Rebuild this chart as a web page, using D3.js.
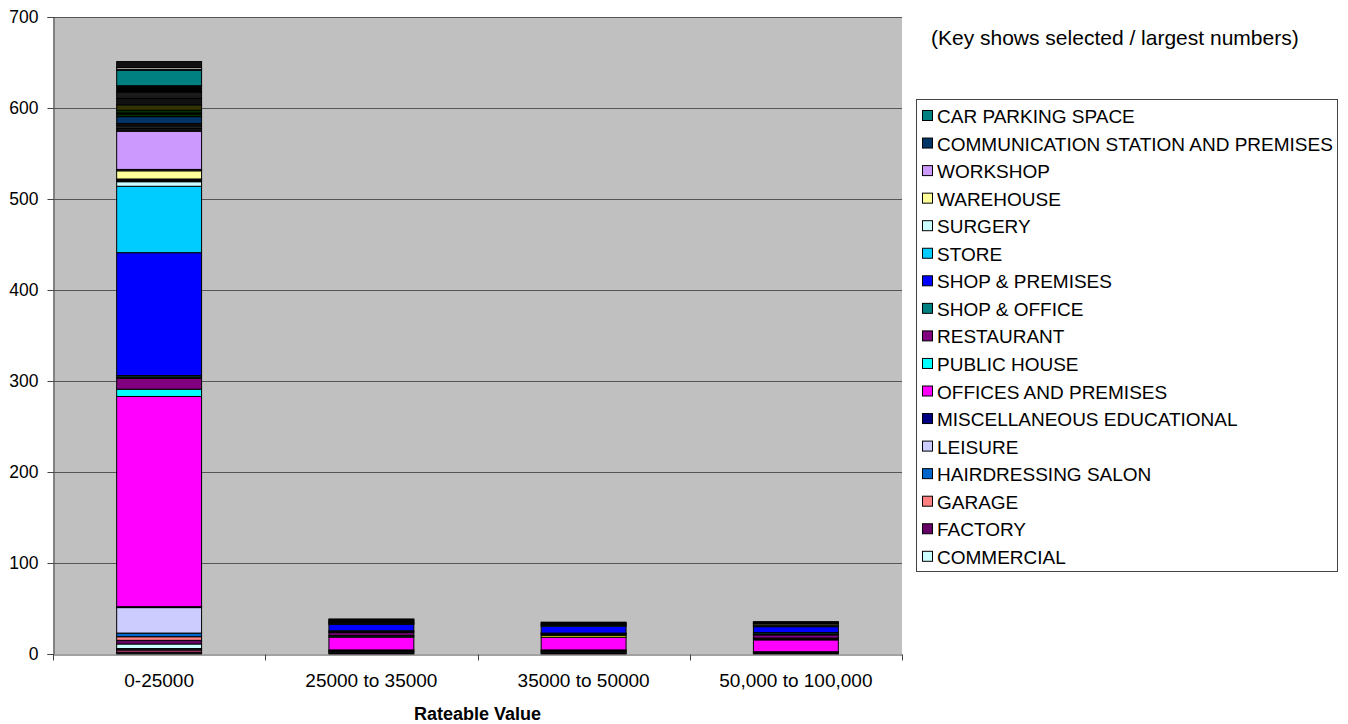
<!doctype HTML>
<html>
  <head>
    <title>Rateable Value</title>
    <style>
      body { margin: 0; background: #fff; }
      text { font-family: Arial, "Liberation Sans", sans-serif; fill: #000; }
      .bar { stroke: #000; stroke-width: 1px; }
    </style>
    <script src="https://cdn.jsdelivr.net/npm/d3@7"></script>
  </head>
  <body>

  <svg width="1348" height="724"></svg>

  <script>

  var categories = ['0-25000', '25000 to 35000', '35000 to 50000', '50,000 to 100,000'];
  var yTicks = [0, 100, 200, 300, 400, 500, 600, 700];

  // stack order, bottom first; names with inKey=false are not in the key
  var seriesNames = [
    'other-1', 'other-2', 'other-3',
    'COMMERCIAL', 'FACTORY', 'GARAGE', 'HAIRDRESSING SALON', 'LEISURE',
    'MISCELLANEOUS EDUCATIONAL', 'OFFICES AND PREMISES', 'other-11',
    'PUBLIC HOUSE', 'RESTAURANT', 'other-14', 'SHOP & OFFICE',
    'SHOP & PREMISES', 'STORE', 'SURGERY', 'other-19', 'other-19b',
    'WAREHOUSE', 'other-21', 'WORKSHOP', 'other-24', 'other-25', 'other-26',
    'COMMUNICATION STATION AND PREMISES', 'other-34', 'other-35', 'other-35b',
    'other-36', 'other-37', 'other-38', 'other-39',
    'CAR PARKING SPACE', 'other-41', 'other-42', 'other-43'
  ];
  var seriesColors = [
    '#333333', '#993366', '#222222',
    '#CCFFFF', '#660066', '#FF8080', '#0066CC', '#CCCCFF',
    '#000080', '#FF00FF', '#FFFF00',
    '#00FFFF', '#800080', '#1a1a1a', '#008080',
    '#0000FF', '#00CCFF', '#CCFFFF', '#111111', '#222222',
    '#FFFF99', '#333333', '#CC99FF', '#111111', '#222222', '#111111',
    '#003366', '#003300', '#111111', '#003300',
    '#333300', '#111111', '#1a1a1a', '#000000',
    '#008080', '#222222', '#C0C0C0', '#111111'
  ];
  var seriesInKey = [
    false, false, false,
    true, true, true, true, true,
    true, true, false,
    true, true, false, true,
    true, true, true, false, false,
    true, false, true, false, false, false,
    true, false, false, false,
    false, false, false, false,
    true, false, false, false
  ];
  // one row per series: [0-25000, 25000 to 35000, 35000 to 50000, 50,000 to 100,000]
  var seriesValues = [
    [1.5, 1, 1, 1],
    [3, 1, 1, 0.5],
    [1.5, 0, 0, 0],
    [5, 1, 1, 0.5],
    [4, 0.5, 0.5, 0],
    [4, 0, 0, 0],
    [4, 0, 1, 0.5],
    [28, 1, 0, 0],
    [1, 0, 0, 0],
    [231, 14, 14, 13],
    [0, 1, 2, 1],
    [8, 1, 1, 1],
    [12, 3, 1, 3.5],
    [1.5, 1, 0.5, 1],
    [1.5, 1, 0, 1.5],
    [135, 7, 7.5, 6.5],
    [73, 1, 1, 0.5],
    [5, 0.5, 0.5, 0.5],
    [1.5, 0, 0, 0.5],
    [1.5, 0, 0, 0],
    [9, 0.5, 0, 1.5],
    [1.5, 0, 0, 0],
    [42, 0.5, 0, 0],
    [3, 0, 0, 0],
    [3, 0, 0, 0],
    [2.5, 0, 0, 0],
    [7.5, 1, 1, 0.5],
    [3, 0, 0, 0],
    [1, 0, 0, 0],
    [3, 0, 0, 0],
    [6, 0, 0, 0],
    [7, 1, 1, 0.5],
    [7, 0, 0, 0],
    [7, 0, 0, 0.5],
    [17, 0.5, 0, 0.5],
    [1, 0, 0, 0],
    [2, 0, 0, 0],
    [6.5, 1, 1, 0.5]
  ];

  var $svg = d3.select('svg');
  var plot = { left: 53, right: 902, top: 17, bottom: 654 };

  var x = d3.scaleBand().domain(categories).range([plot.left, plot.right]);
  var y = d3.scaleLinear().domain([0, 700]).range([plot.bottom, plot.top]);
  var barWidth = x.bandwidth() * 0.4;

  // rows for d3.stack
  var rows = categories.map(function(cat, ci) {
    var row = { cat: cat };
    seriesValues.forEach(function(vals, si) { row[si] = vals[ci]; });
    return row;
  });
  var keys = seriesNames.map(function(d, i) { return i; });
  var stacked = d3.stack().keys(keys)(rows);

  // plot area
  $svg.append('rect')
    .attr('x', plot.left).attr('y', plot.top)
    .attr('width', plot.right - plot.left).attr('height', plot.bottom - plot.top)
    .attr('fill', '#C0C0C0');

  // gridlines
  $svg.append('g').selectAll('line').data(yTicks.slice(1)).enter().append('line')
    .attr('x1', plot.left).attr('x2', plot.right)
    .attr('y1', function(d) { return Math.round(y(d)) + 0.5; })
    .attr('y2', function(d) { return Math.round(y(d)) + 0.5; })
    .attr('stroke', '#555').attr('stroke-width', 1);

  // bars
  stacked.forEach(function(layer) {
    var si = layer.key;
    $svg.append('g').selectAll('rect').data(layer.filter(function(d) { return d[1] > d[0]; }))
      .enter().append('rect')
      .attr('class', 'bar')
      .attr('x', function(d) { return x(d.data.cat) + (x.bandwidth() - barWidth) / 2; })
      .attr('y', function(d) { return y(d[1]); })
      .attr('width', barWidth)
      .attr('height', function(d) { return y(d[0]) - y(d[1]); })
      .attr('fill', seriesColors[si]);
  });

  // y axis
  var yAxis = $svg.append('g')
    .attr('transform', 'translate(' + (plot.left + 0.5) + ',0)')
    .call(d3.axisLeft(y).tickValues(yTicks).tickSize(6).tickPadding(9).tickFormat(d3.format('d')));
  yAxis.select('.domain').attr('stroke', '#444');
  yAxis.selectAll('.tick line').attr('stroke', '#444');
  yAxis.selectAll('text').style('font-size', '17.5px');

  // x axis with ticks between categories
  var xAxis = $svg.append('g')
    .attr('transform', 'translate(0,' + (plot.bottom + 0.5) + ')')
    .call(d3.axisBottom(x).tickSize(0).tickPadding(19));
  xAxis.select('.domain').attr('stroke', '#444');
  xAxis.selectAll('text').style('font-size', '19px');
  xAxis.selectAll('.sep').data(categories).enter().append('line')
    .attr('x1', function(d) { return Math.round(x(d) + x.bandwidth()) + 0.5; })
    .attr('x2', function(d) { return Math.round(x(d) + x.bandwidth()) + 0.5; })
    .attr('y1', 0).attr('y2', 6).attr('stroke', '#444');
  xAxis.append('line')
    .attr('x1', plot.left + 0.5).attr('x2', plot.left + 0.5)
    .attr('y1', 0).attr('y2', 6).attr('stroke', '#444');

  $svg.append('text')
    .attr('x', (plot.left + plot.right) / 2).attr('y', 720)
    .attr('text-anchor', 'middle')
    .style('font-size', '18px').style('font-weight', 'bold')
    .text('Rateable Value');

  $svg.append('text')
    .attr('x', 931).attr('y', 45)
    .style('font-size', '21px')
    .text('(Key shows selected / largest numbers)');

  // key
  var keyItems = keys.filter(function(i) { return seriesInKey[i]; }).reverse();
  var key = $svg.append('g');
  key.append('rect')
    .attr('x', 916.5).attr('y', 99.5).attr('width', 421).attr('height', 472)
    .attr('fill', '#fff').attr('stroke', '#444');
  var item = key.selectAll('g.item').data(keyItems).enter().append('g')
    .attr('transform', function(d, i) { return 'translate(922,' + (116 + i * 27.55) + ')'; });
  item.append('rect')
    .attr('x', 0.5).attr('y', -5.5).attr('width', 10).attr('height', 10)
    .attr('fill', function(d) { return seriesColors[d]; })
    .attr('stroke', '#000').attr('stroke-width', 1);
  item.append('text')
    .attr('x', 15).attr('y', 7)
    .style('font-size', '19px')
    .text(function(d) { return seriesNames[d]; });

  </script>

  </body>
</html>
